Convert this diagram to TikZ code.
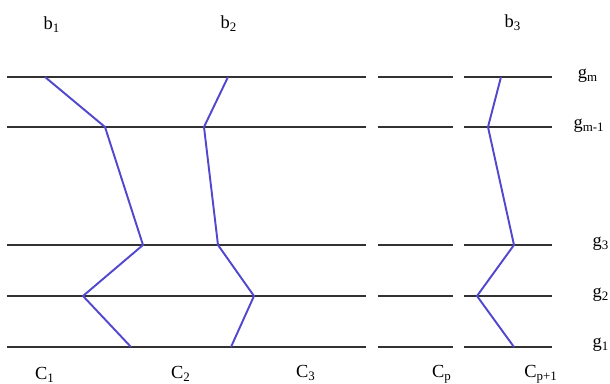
\documentclass[tikz,border=0pt]{standalone}
\usepackage{fontspec}
\setmainfont{Liberation Serif}
\usepackage{xcolor}
\usetikzlibrary{positioning}

\definecolor{pathblue}{RGB}{82,72,205}
\definecolor{levelgray}{RGB}{50,50,50}

\begin{document}
\begin{tikzpicture}[
  x=0.02cm, y=-0.02cm,
  level/.style={draw=levelgray, line width=0.8pt},
  bpath/.style={draw=pathblue, line width=1.1pt, line join=miter},
  lbl/.style={inner sep=0pt, font=\fontsize{10.5}{12}\selectfont}
]
  \useasboundingbox (0,0) rectangle (610,384);

  % energy levels, three pieces each
  \foreach \y/\n in {77/m, 127/n, 245/c, 296/b, 347/a} {
    \coordinate (L\n0) at (7,\y);   \coordinate (L\n1) at (366,\y);
    \coordinate (L\n2) at (378,\y); \coordinate (L\n3) at (453,\y);
    \coordinate (L\n4) at (464,\y); \coordinate (L\n5) at (552,\y);
    \draw[level] (L\n0) -- (L\n1);
    \draw[level] (L\n2) -- (L\n3);
    \draw[level] (L\n4) -- (L\n5);
  }

  % top labels
  \node[lbl] (B1) at (52,25) {b\textsubscript{1}};
  \node[lbl] (B2) at (229,24) {b\textsubscript{2}};
  \node[lbl] (B3) at (513,23) {b\textsubscript{3}};

  % level labels
  \node[lbl] (Gm)  at (588,76)  {g\textsubscript{m}};
  \node[lbl] (Gm1) at (589,126) {g\textsubscript{m-1}};
  \node[lbl] (G3)  at (601,244) {g\textsubscript{3}};
  \node[lbl] (G2)  at (601,295) {g\textsubscript{2}};
  \node[lbl] (G1)  at (601,345) {g\textsubscript{1}};

  % bottom labels
  \node[lbl] (C1)  at (45,375)  {C\textsubscript{1}};
  \node[lbl] (C2)  at (181,374) {C\textsubscript{2}};
  \node[lbl] (C3)  at (306,373) {C\textsubscript{3}};
  \node[lbl] (Cp)  at (442,374) {C\textsubscript{p}};
  \node[lbl] (Cp1) at (541,374) {C\textsubscript{p+1}};

  % first path
  \coordinate (p5) at (45,77);
  \coordinate (p4) at (105,127);
  \coordinate (p3) at (143,245);
  \coordinate (p2) at (83,296);
  \coordinate (p1) at (131,347);
  \draw[bpath] (p5) -- (p4) -- (p3) -- (p2) -- (p1);

  % second path
  \coordinate (q5) at (228,77);
  \coordinate (q4) at (204,127);
  \coordinate (q3) at (218,245);
  \coordinate (q2) at (254,296);
  \coordinate (q1) at (231,347);
  \draw[bpath] (q5) -- (q4) -- (q3) -- (q2) -- (q1);

  % third path
  \coordinate (r5) at (501,77);
  \coordinate (r4) at (488,127);
  \coordinate (r3) at (514,245);
  \coordinate (r2) at (477,296);
  \coordinate (r1) at (514,347);
  \draw[bpath] (r5) -- (r4) -- (r3) -- (r2) -- (r1);
\end{tikzpicture}
\end{document}
